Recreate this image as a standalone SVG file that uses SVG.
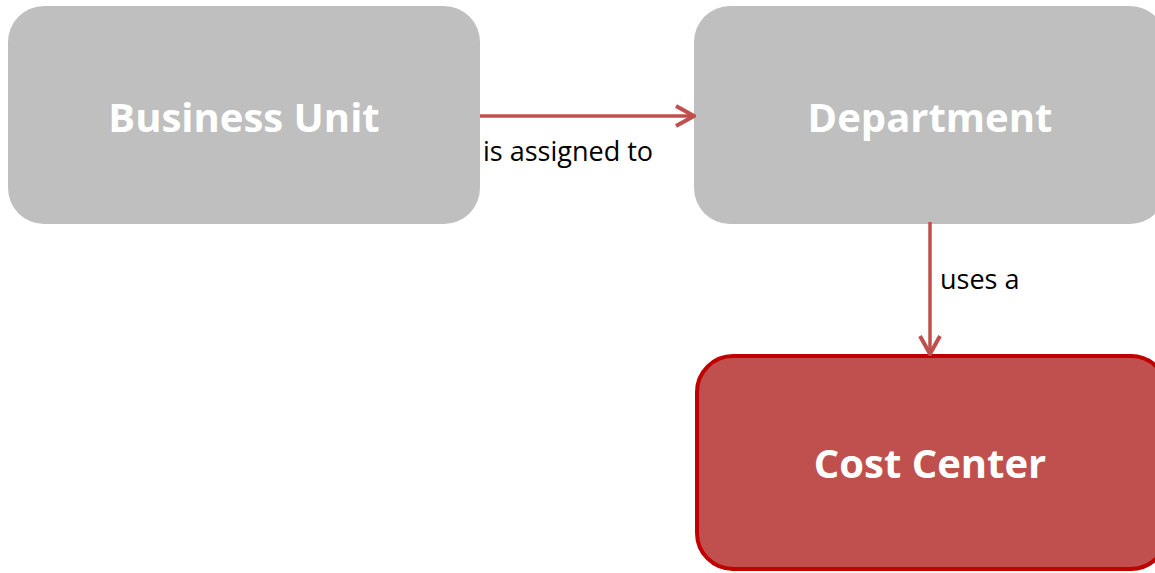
<svg xmlns="http://www.w3.org/2000/svg" width="1155" height="573" viewBox="0 0 1155 573">
<style>
.box{fill:#BFBFBF}
.cc{fill:#C0504D;stroke:#C00000;stroke-width:4}
.title{font-family:"Open Sans",sans-serif;font-weight:bold;font-size:40px;fill:#fff;text-anchor:middle}
.lbl{font-family:"Open Sans",sans-serif;font-size:27px;fill:#000}
.conn{stroke:#C0504D;stroke-width:3.5;fill:none}
</style>
<defs>
<marker id="arr" viewBox="0 0 22 24" refX="20" refY="12" markerWidth="22" markerHeight="24" markerUnits="userSpaceOnUse" orient="auto">
<path d="M2,2 L20,12 L2,22" fill="none" stroke="#C0504D" stroke-width="4"/>
</marker>
</defs>
<g id="business-unit">
<rect class="box" x="8" y="6" width="472" height="218" rx="36"/>
<text class="title" x="244" y="132">Business Unit</text>
</g>
<g id="department">
<rect class="box" x="694" y="6" width="472" height="218" rx="36"/>
<text class="title" x="930" y="132">Department</text>
</g>
<g id="cost-center">
<rect class="cc" x="697" y="356" width="470" height="213" rx="36"/>
<text class="title" x="930" y="478">Cost Center</text>
</g>
<g id="connectors">
<line class="conn" x1="480" y1="116" x2="694" y2="116" marker-end="url(#arr)"/>
<line class="conn" x1="930" y1="222" x2="930" y2="354" marker-end="url(#arr)"/>
<text class="lbl" x="483" y="161">is assigned to</text>
<text class="lbl" x="940" y="289">uses a</text>
</g>
</svg>
